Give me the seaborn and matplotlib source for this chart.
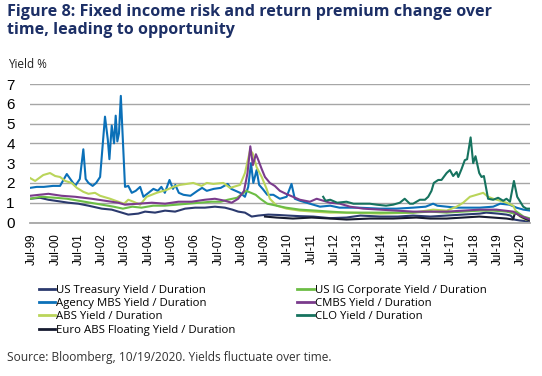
import pandas as pd
import seaborn as sns
import matplotlib.pyplot as plt
from matplotlib.lines import Line2D

# Series: time as decimal year, value = yield / duration
tsy_t = [1999.41, 1999.84, 2000.2, 2000.49, 2001.06, 2001.49, 2001.92, 2002.49, 2002.92, 2003.35,
         2003.63, 2004.06, 2004.35, 2004.78, 2005.21, 2005.64, 2006.07, 2006.5, 2006.92, 2007.35,
         2007.78, 2008.1, 2008.35, 2008.64, 2008.93, 2009.21, 2009.64, 2010.07, 2010.5, 2011.0,
         2011.57, 2012.3, 2013.0, 2013.6, 2014.44, 2015.2, 2015.86, 2016.6, 2017.3, 2018.0,
         2018.73, 2019.0, 2019.5, 2019.87, 2020.05, 2020.2, 2020.45, 2020.88]
tsy_v = [1.2, 1.25, 1.15, 1.1, 1.0, 0.95, 0.85, 0.7, 0.65, 0.5,
         0.4, 0.45, 0.55, 0.5, 0.6, 0.55, 0.7, 0.75, 0.75, 0.8,
         0.75, 0.65, 0.55, 0.5, 0.3, 0.35, 0.4, 0.38, 0.35, 0.32,
         0.3, 0.22, 0.25, 0.35, 0.3, 0.3, 0.35, 0.3, 0.35, 0.4,
         0.45, 0.5, 0.45, 0.4, 0.35, 0.15, 0.1, 0.05]

mbs_t = [1999.41, 1999.7, 2000.0, 2000.4, 2000.7, 2000.99, 2001.2, 2001.35, 2001.55, 2001.7,
         2001.8, 2001.92, 2002.1, 2002.25, 2002.42, 2002.63, 2002.75, 2002.82, 2002.92, 2003.02,
         2003.09, 2003.16, 2003.23, 2003.31, 2003.49, 2003.63, 2003.78, 2003.95, 2004.14, 2004.28,
         2004.5, 2004.71, 2004.9, 2005.05, 2005.2, 2005.4, 2005.55, 2005.65, 2005.8, 2006.0,
         2006.3, 2006.6, 2006.8, 2007.0, 2007.3, 2007.6, 2007.9, 2008.05, 2008.43, 2008.64,
         2008.78, 2008.9, 2009.0, 2009.14, 2009.25, 2009.4, 2009.6, 2009.86, 2010.14, 2010.43,
         2010.64, 2010.78, 2011.0, 2011.43, 2011.86, 2012.3, 2012.7, 2013.5, 2014.44, 2015.15,
         2015.86, 2016.4, 2016.72, 2016.9, 2017.3, 2017.73, 2018.3, 2018.73, 2019.3, 2019.6,
         2020.0, 2020.3, 2020.6, 2020.9]
mbs_v = [1.75, 1.8, 1.8, 1.85, 1.85, 2.45, 2.1, 1.85, 2.2, 3.7,
         2.2, 2.0, 1.85, 2.0, 2.3, 5.35, 4.2, 3.2, 4.9, 4.0,
         5.4, 4.1, 4.5, 6.4, 1.8, 1.85, 1.5, 1.6, 1.8, 1.3,
         1.5, 1.7, 1.6, 1.8, 1.5, 2.15, 1.7, 1.9, 1.5, 1.4,
         1.35, 1.6, 1.75, 1.6, 1.7, 1.75, 1.95, 1.7, 1.5, 1.3,
         1.8, 3.0, 2.0, 2.65, 1.9, 1.7, 1.4, 1.4, 1.2, 1.3,
         1.95, 1.2, 1.1, 0.95, 0.8, 0.85, 0.75, 0.75, 0.7, 0.7,
         0.75, 0.8, 0.95, 0.85, 0.8, 0.75, 0.75, 0.75, 0.8, 0.95,
         0.9, 0.75, 0.65, 0.6]

abs_t = [1999.41, 1999.63, 1999.98, 2000.27, 2000.49, 2000.7, 2000.92, 2001.2, 2001.42, 2001.7,
         2001.92, 2002.2, 2002.42, 2002.85, 2003.2, 2003.45, 2003.63, 2003.85, 2004.14, 2004.42,
         2004.85, 2005.28, 2005.56, 2005.85, 2006.14, 2006.42, 2006.78, 2007.0, 2007.28, 2007.71,
         2008.0, 2008.43, 2008.64, 2008.86, 2008.97, 2009.14, 2009.36, 2009.57, 2009.71, 2010.0,
         2010.43, 2011.0, 2011.57, 2012.3, 2013.0, 2014.44, 2015.86, 2016.72, 2017.3, 2017.73,
         2018.01, 2018.3, 2018.73, 2018.87, 2019.08, 2019.3, 2019.6, 2019.87, 2020.16, 2020.3,
         2020.45, 2020.7, 2020.9]
abs_v = [2.25, 2.1, 2.4, 2.5, 2.35, 2.3, 2.1, 2.0, 1.75, 1.55,
         1.45, 1.5, 1.35, 1.2, 1.05, 0.95, 1.15, 1.05, 0.9, 1.3,
         1.5, 1.65, 1.8, 1.9, 1.95, 2.0, 1.85, 2.0, 1.95, 2.0,
         1.75, 1.9, 2.5, 3.65, 3.5, 2.8, 2.3, 1.7, 1.2, 0.85,
         0.7, 0.6, 0.55, 0.5, 0.5, 0.45, 0.5, 0.65, 0.6, 0.8,
         1.0, 1.3, 1.45, 1.5, 1.3, 1.2, 1.1, 1.0, 0.85, 0.5,
         0.3, 0.15, 0.1]

euro_t = [2009.5, 2010.0, 2010.7, 2011.5, 2012.3, 2013.0, 2014.0, 2015.0, 2016.0, 2016.6,
          2017.3, 2018.0, 2018.7, 2019.3, 2019.87, 2020.15, 2020.24, 2020.5, 2020.75, 2020.9]
euro_v = [0.3, 0.25, 0.2, 0.25, 0.2, 0.15, 0.2, 0.2, 0.25, 0.2,
          0.2, 0.25, 0.3, 0.25, 0.2, 0.15, 0.5, 0.3, 0.15, 0.1]

ig_t = [1999.41, 1999.9, 2000.5, 2001.0, 2001.5, 2002.0, 2002.5, 2003.0, 2003.4, 2003.8,
        2004.2, 2004.7, 2005.2, 2005.7, 2006.2, 2006.7, 2007.2, 2007.6, 2007.9, 2008.3,
        2008.7, 2008.9, 2009.1, 2009.3, 2009.6, 2010.0, 2010.4, 2011.0, 2011.7, 2012.3,
        2013.0, 2014.4, 2015.86, 2016.6, 2017.3, 2018.0, 2018.73, 2019.3, 2019.87, 2020.2,
        2020.3, 2020.6, 2020.9]
ig_v = [1.2, 1.3, 1.25, 1.2, 1.1, 1.0, 0.9, 0.8, 0.7, 0.8,
        0.75, 0.85, 0.85, 0.9, 0.95, 1.0, 1.05, 1.05, 1.15, 1.25,
        1.6, 1.5, 1.4, 1.2, 0.95, 0.85, 0.75, 0.65, 0.6, 0.55,
        0.5, 0.5, 0.5, 0.55, 0.5, 0.55, 0.6, 0.6, 0.55, 0.45,
        0.55, 0.3, 0.2]

cmbs_t = [1999.41, 1999.8, 2000.2, 2000.77, 2001.35, 2002.06, 2002.63, 2003.2, 2003.49, 2004.06,
          2004.64, 2005.21, 2005.78, 2006.35, 2006.92, 2007.35, 2007.78, 2008.07, 2008.35, 2008.6,
          2008.75, 2008.87, 2008.98, 2009.11, 2009.2, 2009.36, 2009.5, 2009.71, 2009.92, 2010.14,
          2010.4, 2010.6, 2011.0, 2011.43, 2011.72, 2012.29, 2012.72, 2013.15, 2013.72, 2014.44,
          2015.15, 2015.86, 2016.58, 2017.3, 2018.01, 2018.73, 2019.44, 2020.16, 2020.45, 2020.88]
cmbs_v = [1.35, 1.4, 1.45, 1.35, 1.3, 1.2, 1.1, 1.0, 0.9, 0.95,
          1.0, 0.95, 1.05, 1.05, 1.15, 1.2, 1.1, 1.0, 1.2, 1.6,
          2.5, 3.85, 2.9, 3.45, 3.2, 2.7, 2.3, 2.0, 1.85, 1.6,
          1.45, 1.35, 1.15, 1.05, 1.2, 1.0, 0.95, 0.8, 0.7, 0.65,
          0.6, 0.55, 0.55, 0.55, 0.6, 0.65, 0.65, 0.55, 0.35, 0.15]

clo_t = [2012.0, 2012.1, 2012.3, 2012.6, 2013.0, 2013.3, 2013.6, 2014.0, 2014.3, 2014.7,
         2015.0, 2015.29, 2015.5, 2015.72, 2015.86, 2016.15, 2016.37, 2016.51, 2016.65, 2016.75,
         2016.94, 2017.08, 2017.3, 2017.44, 2017.58, 2017.73, 2017.8, 2017.94, 2018.08, 2018.18,
         2018.33, 2018.44, 2018.54, 2018.7, 2018.8, 2018.9, 2019.08, 2019.3, 2019.51, 2019.73,
         2019.87, 2020.02, 2020.19, 2020.33, 2020.59, 2020.73, 2020.88]
clo_v = [1.3, 1.1, 1.15, 1.0, 1.05, 0.95, 0.95, 0.95, 0.9, 0.85,
         0.9, 1.0, 1.2, 0.95, 0.95, 1.15, 1.15, 1.3, 1.6, 2.0,
         2.15, 2.15, 2.5, 2.65, 2.35, 2.55, 2.3, 2.7, 3.15, 3.2,
         4.3, 3.0, 3.35, 2.5, 2.3, 2.35, 1.2, 1.15, 1.25, 1.1,
         1.2, 1.05, 2.1, 1.3, 0.8, 0.7, 0.7]

names = ["US Treasury Yield / Duration", "Agency MBS Yield / Duration", "ABS Yield / Duration",
         "Euro ABS Floating Yield / Duration", "US IG Corporate Yield / Duration",
         "CMBS Yield / Duration", "CLO Yield / Duration"]
colors = ["#2B3A6E", "#0B70B8", "#BAD55A", "#161B30", "#6CBD45", "#7A3B8C", "#16735F"]
series = [(tsy_t, tsy_v), (mbs_t, mbs_v), (abs_t, abs_v), (euro_t, euro_v),
          (ig_t, ig_v), (cmbs_t, cmbs_v), (clo_t, clo_v)]

tick_years = list(range(1999, 2021))
tick_labels = ["Jul-%02d" % (y % 100) for y in tick_years]

frames = [pd.DataFrame({"t": t, "v": v, "series": n}) for n, (t, v) in zip(names, series)]
df = pd.concat(frames, ignore_index=True)

fig = plt.figure(figsize=(5.42, 3.76), dpi=100)
ax = fig.add_axes([30 / 542, 1 - 222.5 / 376, 500 / 542, 138.5 / 376])

sns.lineplot(data=df, x="t", y="v", hue="series", hue_order=names,
             palette=dict(zip(names, colors)), estimator=None, sort=False,
             linewidth=1.5, legend=False, ax=ax)

ax.set_xlim(1999.41, 2020.88)
ax.set_ylim(0, 7)
ax.set_yticks(range(0, 8))
ax.set_yticklabels([str(i) for i in range(0, 8)], fontfamily="Liberation Sans", fontsize=11)
ax.set_xticks([y + 0.5 for y in tick_years])
ax.set_xticklabels(tick_labels, rotation=90, fontfamily="Liberation Sans", fontsize=8.4)
ax.tick_params(axis="y", length=0, pad=11)
ax.tick_params(axis="x", length=0, pad=8)
ax.yaxis.grid(True, color="#A6A6A6", linewidth=1.0)
ax.set_axisbelow(True)
for s in ["top", "right", "left"]:
    ax.spines[s].set_visible(False)
ax.spines["bottom"].set_color("#A6A6A6")
ax.spines["bottom"].set_linewidth(1.3)
ax.set_xlabel("")
ax.set_ylabel("")

fig.text(7 / 542, 1 - 4 / 376,
         "Figure 8: Fixed income risk and return premium change over\ntime, leading to opportunity",
         fontfamily="Open Sans", fontweight="bold", fontsize=11.6, color="#1C2F66",
         va="top", ha="left", linespacing=1.2)
fig.text(8 / 542, 1 - 65 / 376, "Yield %", fontfamily="Open Sans", fontsize=8.5,
         color="#222222", va="center", ha="left")

handles = [Line2D([], [], color=c, linewidth=2) for c in colors]
fig.legend(handles, names, ncol=2, loc="upper left", bbox_to_anchor=(33 / 542, 1 - 279 / 376),
           frameon=False, prop={"family": "Open Sans", "size": 8.2}, handlelength=1.45,
           handletextpad=0.1, labelspacing=0.2, columnspacing=5.4, borderpad=0)

fig.text(7 / 542, 1 - 357 / 376, "Source: Bloomberg, 10/19/2020. Yields fluctuate over time.",
         fontfamily="Open Sans", fontsize=8.6, color="#333333", va="center", ha="left")

fig.savefig("out.png", dpi=100)
